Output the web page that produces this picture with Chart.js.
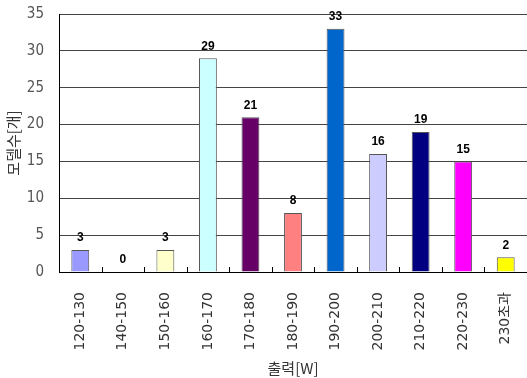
<!DOCTYPE html>
<html>
<head>
<meta charset="utf-8">
<script src="https://cdn.jsdelivr.net/npm/chart.js@4"></script>
<style>
  html, body { margin: 0; padding: 0; background: #fff; }
  #wrap { width: 527px; height: 378px; }
</style>
</head>
<body>
<div id="wrap"><canvas id="powerChart"></canvas></div>
<script>
// Output ranges (W) and model counts
const categories = ['120-130', '140-150', '150-160', '160-170', '170-180', '180-190',
                    '190-200', '200-210', '210-220', '220-230', '230초과'];
const modelCounts = [3, 0, 3, 29, 21, 8, 33, 16, 19, 15, 2];
const barColors = ['#9999FF', '#993366', '#FFFFCC', '#CCFFFF', '#660066', '#FF8080',
                   '#0066CC', '#CCCCFF', '#000080', '#FF00FF', '#FFFF00'];
const yTicks = [0, 5, 10, 15, 20, 25, 30, 35];

// value above each bar
const valueLabels = {
    id: 'valueLabels',
    afterDatasetsDraw(chart) {
        const ctx = chart.ctx;
        const meta = chart.getDatasetMeta(0);
        ctx.save();
        ctx.font = 'bold 12px "Liberation Sans", sans-serif';
        ctx.fillStyle = '#000';
        ctx.textAlign = 'center';
        ctx.textBaseline = 'bottom';
        meta.data.forEach((bar, i) => {
            ctx.fillText(String(modelCounts[i]), bar.x, bar.y - 6);
        });
        ctx.restore();
    }
};

// short tick marks between categories, pointing into the plot
const innerTicks = {
    id: 'innerTicks',
    afterDraw(chart) {
        const { ctx, chartArea } = chart;
        const step = (chartArea.right - chartArea.left) / categories.length;
        ctx.save();
        ctx.strokeStyle = '#000';
        ctx.lineWidth = 1;
        ctx.beginPath();
        for (let i = 1; i < categories.length; i++) {
            const x = Math.round(chartArea.left + i * step) + 0.5;
            ctx.moveTo(x, chartArea.bottom);
            ctx.lineTo(x, chartArea.bottom - 5);
        }
        ctx.stroke();
        ctx.restore();
    }
};

new Chart(document.getElementById('powerChart'), {
    type: 'bar',
    data: {
        labels: categories,
        datasets: [{
            data: modelCounts,
            backgroundColor: barColors,
            borderColor: '#555',
            borderWidth: 1,
            barPercentage: 0.42,
            categoryPercentage: 1
        }]
    },
    options: {
        responsive: true,
        maintainAspectRatio: false,
        animation: false,
        layout: { padding: { top: 14, right: 0, left: 0, bottom: 0 } },
        plugins: {
            legend: { display: false },
            tooltip: { enabled: false }
        },
        scales: {
            x: {
                grid: { display: false },
                border: { display: true, color: '#000', width: 1 },
                ticks: {
                    minRotation: 90,
                    maxRotation: 90,
                    padding: 12,
                    color: '#333',
                    font: { family: '"DejaVu Sans", "Noto Sans CJK KR", sans-serif', size: 14 }
                },
                title: {
                    display: true,
                    text: '출력[W]',
                    color: '#333',
                    padding: { top: 0, bottom: 1 },
                    font: { family: '"Noto Sans CJK KR", sans-serif', size: 15 }
                },
                afterFit(scale) {
                    scale.height = 106;
                    scale.paddingLeft = 0;
                    scale.paddingRight = 0;
                }
            },
            y: {
                min: 0,
                max: 35,
                afterBuildTicks(scale) {
                    scale.ticks = yTicks.map(v => ({ value: v }));
                },
                grid: { color: '#444', lineWidth: 1, drawTicks: false },
                border: { display: true, color: '#000', width: 1 },
                ticks: {
                    padding: 15,
                    color: '#555',
                    font: { family: '"Liberation Sans Narrow", "DejaVu Sans Condensed", sans-serif', size: 15 }
                },
                title: {
                    display: true,
                    text: '모델수[개]',
                    color: '#333',
                    padding: { top: 4, bottom: 0 },
                    font: { family: '"Noto Sans CJK KR", sans-serif', size: 15 }
                },
                afterFit(scale) {
                    scale.width = 59;
                    scale.paddingTop = 0;
                    scale.paddingBottom = 0;
                }
            }
        }
    },
    plugins: [valueLabels, innerTicks]
});
</script>
</body>
</html>
